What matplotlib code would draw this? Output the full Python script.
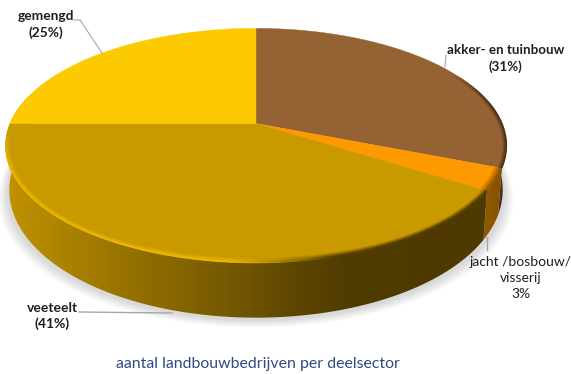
import numpy as np
import matplotlib
matplotlib.use("Agg")
import matplotlib.pyplot as plt
from matplotlib.collections import LineCollection
from matplotlib.colors import to_rgb
from matplotlib.patches import Polygon

plt.rcParams['font.family'] = ['Lato', 'DejaVu Sans']

# shares in percent, clockwise from twelve o'clock
sectors = ["akker", "jacht", "veeteelt", "gemengd"]
shares = [31, 3, 41, 25]
top_colors = ["#956333", "#ff9900", "#c99a00", "#fdc900"]

title = "aantal landbouwbedrijven per deelsector"

# wall shading from left to right for each sector
wall_x = [0, 40, 110, 200, 290, 350, 470, 490, 510, 571]
wall_colors = {
    "akker": ["#4a2f14"] * 10,
    "jacht": ["#8f5800"] * 7 + ["#8f5800", "#7a4a00", "#7a4a00"],
    "veeteelt": ["#c49400", "#b48a00", "#9c7600", "#7f6000", "#5f4700", "#503b00", "#4e3a00", "#4e3a00", "#4e3a00", "#4e3a00"],
    "gemengd": ["#c49400"] * 10,
}

# pie perspective in pixels
cx, cy = 256, 123.5
a, b, k = 246, 113, 0.188
wall_side, wall_front = 42, 13
wall_narrow = 0.985


def rim(t):
    # t is the angle clockwise from the top, in degrees
    u = np.sin(np.radians(t))
    v = np.cos(np.radians(t))
    w = 1 + k * v
    return cx + a * u / w, cy - b * v / w


def lower_rim(t):
    x, y = rim(t)
    v = np.cos(np.radians(t))
    return cx + wall_narrow * (x - cx), y + wall_side - wall_front * v


def ramp(x, stops):
    rgb = np.array([to_rgb(c) for c in stops])
    return np.stack([np.interp(x, wall_x, rgb[:, i]) for i in range(3)], axis=-1)


def inset(x, y, d):
    # move rim points d pixels towards the middle of the pie
    dx, dy = cx - x, cy + 22 - y
    n = np.hypot(dx, dy)
    return x + dx / n * d, y + dy / n * d


def bevel(t, top, edge_fn, width, fade_in=None, fade_out=None):
    # strokes just inside the rim, blending the top colour into the edge colour
    x, y = rim(t)
    top = np.array(to_rgb(top))
    mid_x = (x[:-1] + x[1:]) / 2
    edge = edge_fn(mid_x)
    alpha = np.ones(len(mid_x))
    if fade_in is not None:
        alpha = alpha * np.clip((t[:-1] - t[0]) / fade_in, 0, 1)
    if fade_out is not None:
        alpha = alpha * np.clip((t[-1] - t[:-1]) / fade_out, 0, 1)
    for d in np.arange(width, -0.1, -0.5):
        s = 1 - d / width
        colors = top * (1 - s) + edge * s
        px, py = inset(x, y, d)
        seg = np.stack([np.column_stack([px[:-1], py[:-1]]), np.column_stack([px[1:], py[1:]])], axis=1)
        ax.add_collection(LineCollection(seg, colors=np.column_stack([colors, alpha]), lw=0.9, zorder=4))


fig = plt.figure(figsize=(5.71, 3.74), dpi=100)
ax = fig.add_axes([0, 0, 1, 1])
ax.set_xlim(0, 571)
ax.set_ylim(374, 0)
ax.axis("off")

edges = np.concatenate([[0], np.cumsum(shares)]) * 3.6

# soft shadow under the front of the pie
front = np.linspace(85, 280, 200)
fx, fy = lower_rim(front)
tx, ty = rim(front[::-1])
for i in range(10):
    grow = 11 - i
    sx = cx + (fx - cx) * (1 + grow / 250)
    poly = np.column_stack([np.r_[sx, tx], np.r_[fy + grow * 0.8 + 1, ty]])
    ax.add_patch(Polygon(poly, fc="#808080", alpha=0.03, ec="none", zorder=1))

# side walls with a horizontal gradient
grad_x = np.arange(0, 571)
for name, start, end in zip(sectors, edges[:-1], edges[1:]):
    t = np.linspace(start, end, 200)
    t = t[(t >= 70) & (t <= 285)]
    if len(t) < 2:
        continue
    ux, uy = rim(t)
    lx, ly = lower_rim(t[::-1])
    poly = Polygon(np.column_stack([np.r_[ux, lx], np.r_[uy, ly]]), fc="none", ec="none")
    ax.add_patch(poly)
    row = ramp(grad_x, wall_colors[name])[None, :, :]
    im = ax.imshow(row, extent=(0, 571, 374, 0), aspect="auto", zorder=2, interpolation="bilinear")
    im.set_clip_path(poly)

# top surface
for name, start, end, color in zip(sectors, edges[:-1], edges[1:], top_colors):
    t = np.linspace(start, end, 200)
    x, y = rim(t)
    ax.add_patch(Polygon(np.column_stack([np.r_[cx, x], np.r_[cy, y]]), fc=color, ec=color, lw=0.3, zorder=3))


def veeteelt_edge(x):
    # bright on the left, falling away to the wall colour on the right
    wall = ramp(x, wall_colors["veeteelt"])
    fade = np.clip((x - 230) / 100, 0, 1)[:, None]
    light = np.array(to_rgb("#efb800"))
    return light * (1 - fade) + wall * fade


bevel(np.linspace(62, edges[1], 120), top_colors[0], lambda x: ramp(x, wall_colors["akker"]), 4, fade_in=20)
bevel(np.linspace(edges[1], edges[2], 40), top_colors[1], lambda x: ramp(x, wall_colors["jacht"]), 8)
bevel(np.linspace(edges[2], 268, 400), top_colors[2], veeteelt_edge, 5, fade_out=25)

# leader lines
line_color = "#a6a6a6"
ax.plot([74, 80, 102], [20, 20, 53], color=line_color, lw=0.8, zorder=5)
ax.plot([446, 445], [55, 67], color=line_color, lw=0.8, zorder=5)
ax.plot([487, 487], [237, 250], color=line_color, lw=1.0, zorder=5)
ax.plot([79, 172], [312, 313], color=line_color, lw=1.0, zorder=5)

# labels
label_color = "#1f1f1f"
ax.text(45.5, 24.5, "gemengd\n(%d%%)" % shares[3], ha="center", va="center", fontsize=9.9,
        fontweight="bold", color=label_color, linespacing=1.4, zorder=6)
ax.text(505.5, 58.5, "akker- en tuinbouw\n(%d%%)" % shares[0], ha="center", va="center", fontsize=9.6,
        fontweight="bold", color=label_color, linespacing=1.4, zorder=6)
ax.text(520.5, 278, "jacht /bosbouw/\nvisserij\n%d%%" % shares[1], ha="center", va="center", fontsize=10,
        color=label_color, linespacing=1.4, zorder=6)
ax.text(52.5, 316, "veeteelt\n(%d%%)" % shares[2], ha="center", va="center", fontsize=10,
        fontweight="bold", color=label_color, linespacing=1.4, zorder=6)
ax.text(257.5, 364, title, ha="center", va="center", fontsize=11.4, color="#2d4a86", zorder=6)

fig.savefig("out.png", dpi=100)
